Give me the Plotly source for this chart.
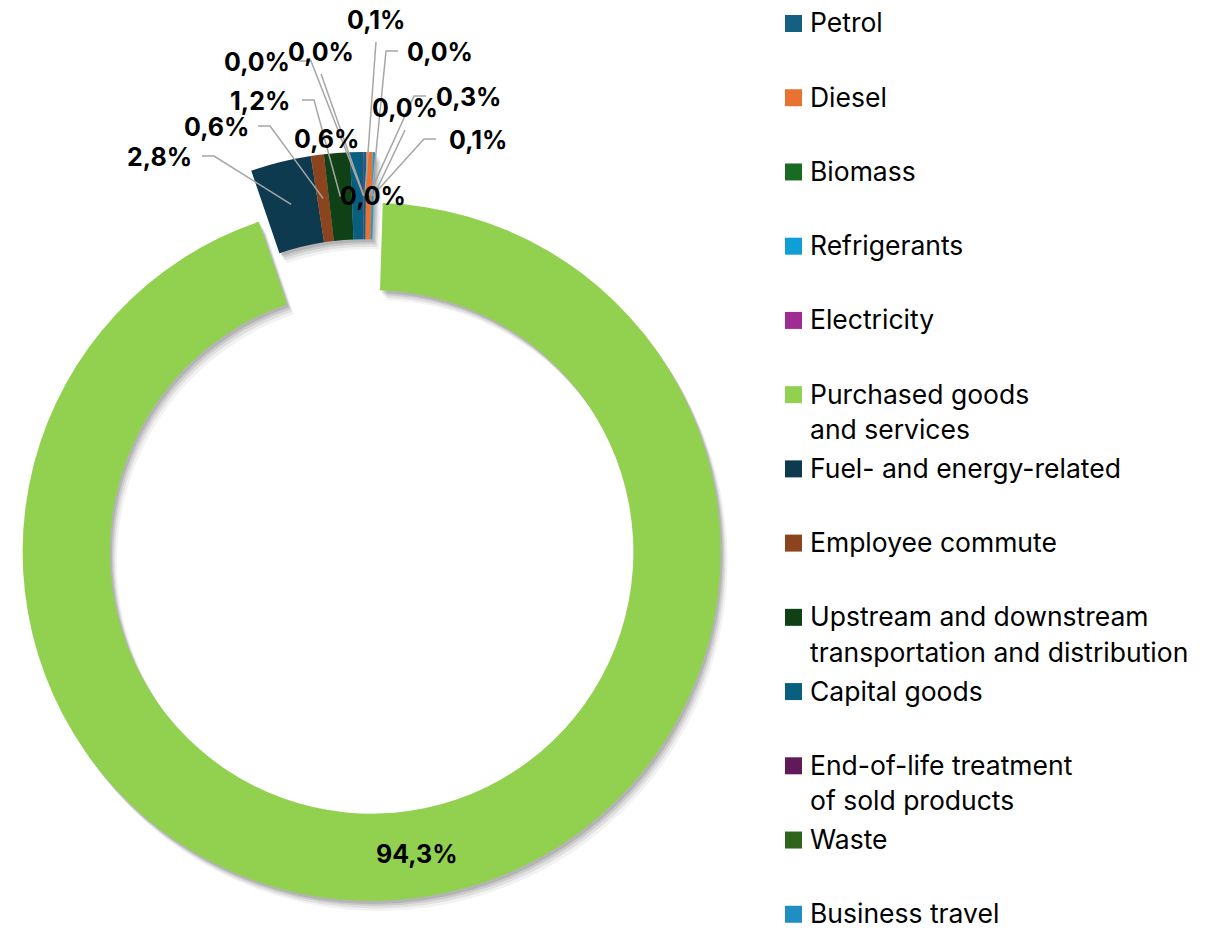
import math
import plotly.graph_objects as go

# ---------------- data ----------------
categories = [
    "Petrol", "Diesel", "Biomass", "Refrigerants", "Electricity",
    "Purchased goods\nand services", "Fuel- and energy-related", "Employee commute",
    "Upstream and downstream\ntransportation and distribution", "Capital goods",
    "End-of-life treatment\nof sold products", "Waste", "Business travel",
]
values = [0.1, 0.3, 0.004, 0.1, 0.004, 94.3, 2.8, 0.6, 1.2, 0.6, 0.03, 0.004, 0.004]
exploded = "Purchased goods\nand services"

# ---------------- style ----------------
colors = ["#156082", "#E97132", "#196B24", "#0F9ED5", "#A02B93", "#92D050",
          "#0D3A4E", "#8C441E", "#0F4016", "#095F80", "#601A58", "#2F641C", "#1F8EC1"]
W, H = 1212, 932
R = 349.0
HOLE = 0.75
C0 = (364.0, 501.0)       # centre of the non-exploded ring
PULL_PX = 51.5            # explosion distance of the big slice
FONT = "Inter"
LBL_SIZE = 25
LEG_SIZE = 26.5
LEADER = "#A6A6A6"
TRANSP = "rgba(0,0,0,0)"
# label layout: centre of text, leader style
label_layout = {
    "Fuel- and energy-related": (160, 157, "L"),
    "Employee commute": (216, 127, "L"),
    "Upstream and downstream\ntransportation and distribution": (260, 101, "L"),
    "Capital goods": (326, 139, "N"),
    "End-of-life treatment\nof sold products": (257, 62, "L"),
    "Waste": (321, 52, "B"),
    "Business travel": (373, 196, "N"),
    "Petrol": (376, 20, "B"),
    "Biomass": (440, 52, "R"),
    "Diesel": (468, 97, "R"),
    "Electricity": (405, 108, "B"),
    "Refrigerants": (478, 140, "R"),
}
LEG_X0 = 785
LEG_TOP = 23.5
LEG_STEP = 74.23
LEG_SW = 17
LEG_LINE = 35.5

# ---------------- geometry from data ----------------
total = sum(values)
cum = 0.0
mid_angle = []
for v in values:
    mid_angle.append((cum + v / 2) / total * 2 * math.pi)
    cum += v
gi = categories.index(exploded)
ga = mid_angle[gi]
CG = (C0[0] + PULL_PX * math.sin(ga), C0[1] - PULL_PX * math.cos(ga))


def px(x):
    return x / W


def py(y):
    return 1 - y / H


def domain(c):
    return dict(x=[(c[0] - R) / W, (c[0] + R) / W], y=[1 - (c[1] + R) / H, 1 - (c[1] - R) / H])


def pie(center, cols, texttemplate=None, name=""):
    return go.Pie(
        labels=categories, values=values, sort=False, direction="clockwise", rotation=0,
        hole=HOLE, domain=domain(center), marker=dict(colors=cols, line=dict(width=0)),
        textinfo="none" if texttemplate is None else None,
        texttemplate=texttemplate, textposition="inside", insidetextorientation="horizontal",
        textfont=dict(family=FONT, size=LBL_SIZE, color="black", weight="bold"),
        showlegend=False, hoverinfo="skip" if name == "shadow" else "label+percent", name=name,
    )


fig = go.Figure()
# soft shadows
for dx, dy, a in [(7, 10, 0.05), (5, 7.5, 0.07), (3.5, 5, 0.09), (2, 3, 0.11)]:
    for center, is_green in [(CG, True), (C0, False)]:
        cols = [("rgba(0,0,0,%.2f)" % a) if ((i == gi) == is_green) else TRANSP for i in range(len(values))]
        fig.add_trace(pie((center[0] + dx, center[1] + dy), cols, name="shadow"))

# cluster of small slices
fig.add_trace(pie(C0, [c if i != gi else TRANSP for i, c in enumerate(colors)], name="cluster"))
# exploded big slice
tt = ["%{percent:.1%}" if i == gi else "" for i in range(len(values))]
fig.add_trace(pie(CG, [c if i == gi else TRANSP for i, c in enumerate(colors)], texttemplate=tt, name="main"))

# ---------------- data labels with leader lines ----------------
shapes = []
annotations = []
r_mid = R * (1 + HOLE) / 2
HW = 32
for i, cat in enumerate(categories):
    if cat not in label_layout:
        continue
    lx, ly, style = label_layout[cat]
    txt = ("%.1f" % (values[i] / total * 100)).replace(".", ",") + "%"
    annotations.append(dict(x=px(lx), y=py(ly), xref="paper", yref="paper", text=txt, showarrow=False,
                            font=dict(family=FONT, size=LBL_SIZE, color="black", weight="bold"),
                            xanchor="center", yanchor="middle"))
    ex = C0[0] + r_mid * math.sin(mid_angle[i])
    ey = C0[1] - r_mid * math.cos(mid_angle[i])
    pts = None
    if style == "L":
        pts = [(lx + HW + 10, ly - 1), (lx + HW + 22, ly - 1), (ex, ey)]
    elif style == "R":
        pts = [(lx - HW - 10, ly - 1), (lx - HW - 22, ly - 1), (ex, ey)]
    elif style == "B":
        pts = [(lx, ly + 22), (ex, ey)]
    if pts:
        path = "M " + " L ".join("%.4f,%.4f" % (px(x), py(y)) for x, y in pts)
        shapes.append(dict(type="path", path=path, xref="paper", yref="paper",
                           line=dict(color=LEADER, width=1.5), layer="above"))

# ---------------- legend ----------------
for i, cat in enumerate(categories):
    yc = LEG_TOP + i * LEG_STEP
    shapes.append(dict(type="rect", xref="paper", yref="paper",
                       x0=px(LEG_X0), x1=px(LEG_X0 + LEG_SW), y0=py(yc - LEG_SW / 2), y1=py(yc + LEG_SW / 2),
                       fillcolor=colors[i], line=dict(width=0), layer="above"))
    for k, line in enumerate(cat.split("\n")):
        annotations.append(dict(x=px(LEG_X0 + LEG_SW + 6), y=py(yc - 1 + k * LEG_LINE), xref="paper", yref="paper",
                                text=line, showarrow=False, xanchor="left", yanchor="middle",
                                font=dict(family=FONT, size=LEG_SIZE, color="black")))

fig.update_layout(
    width=W, height=H, margin=dict(l=0, r=0, t=0, b=0),
    paper_bgcolor="white", plot_bgcolor="white", showlegend=False,
    separators=", ", shapes=shapes, annotations=annotations,
)
fig.write_html("out.html")
